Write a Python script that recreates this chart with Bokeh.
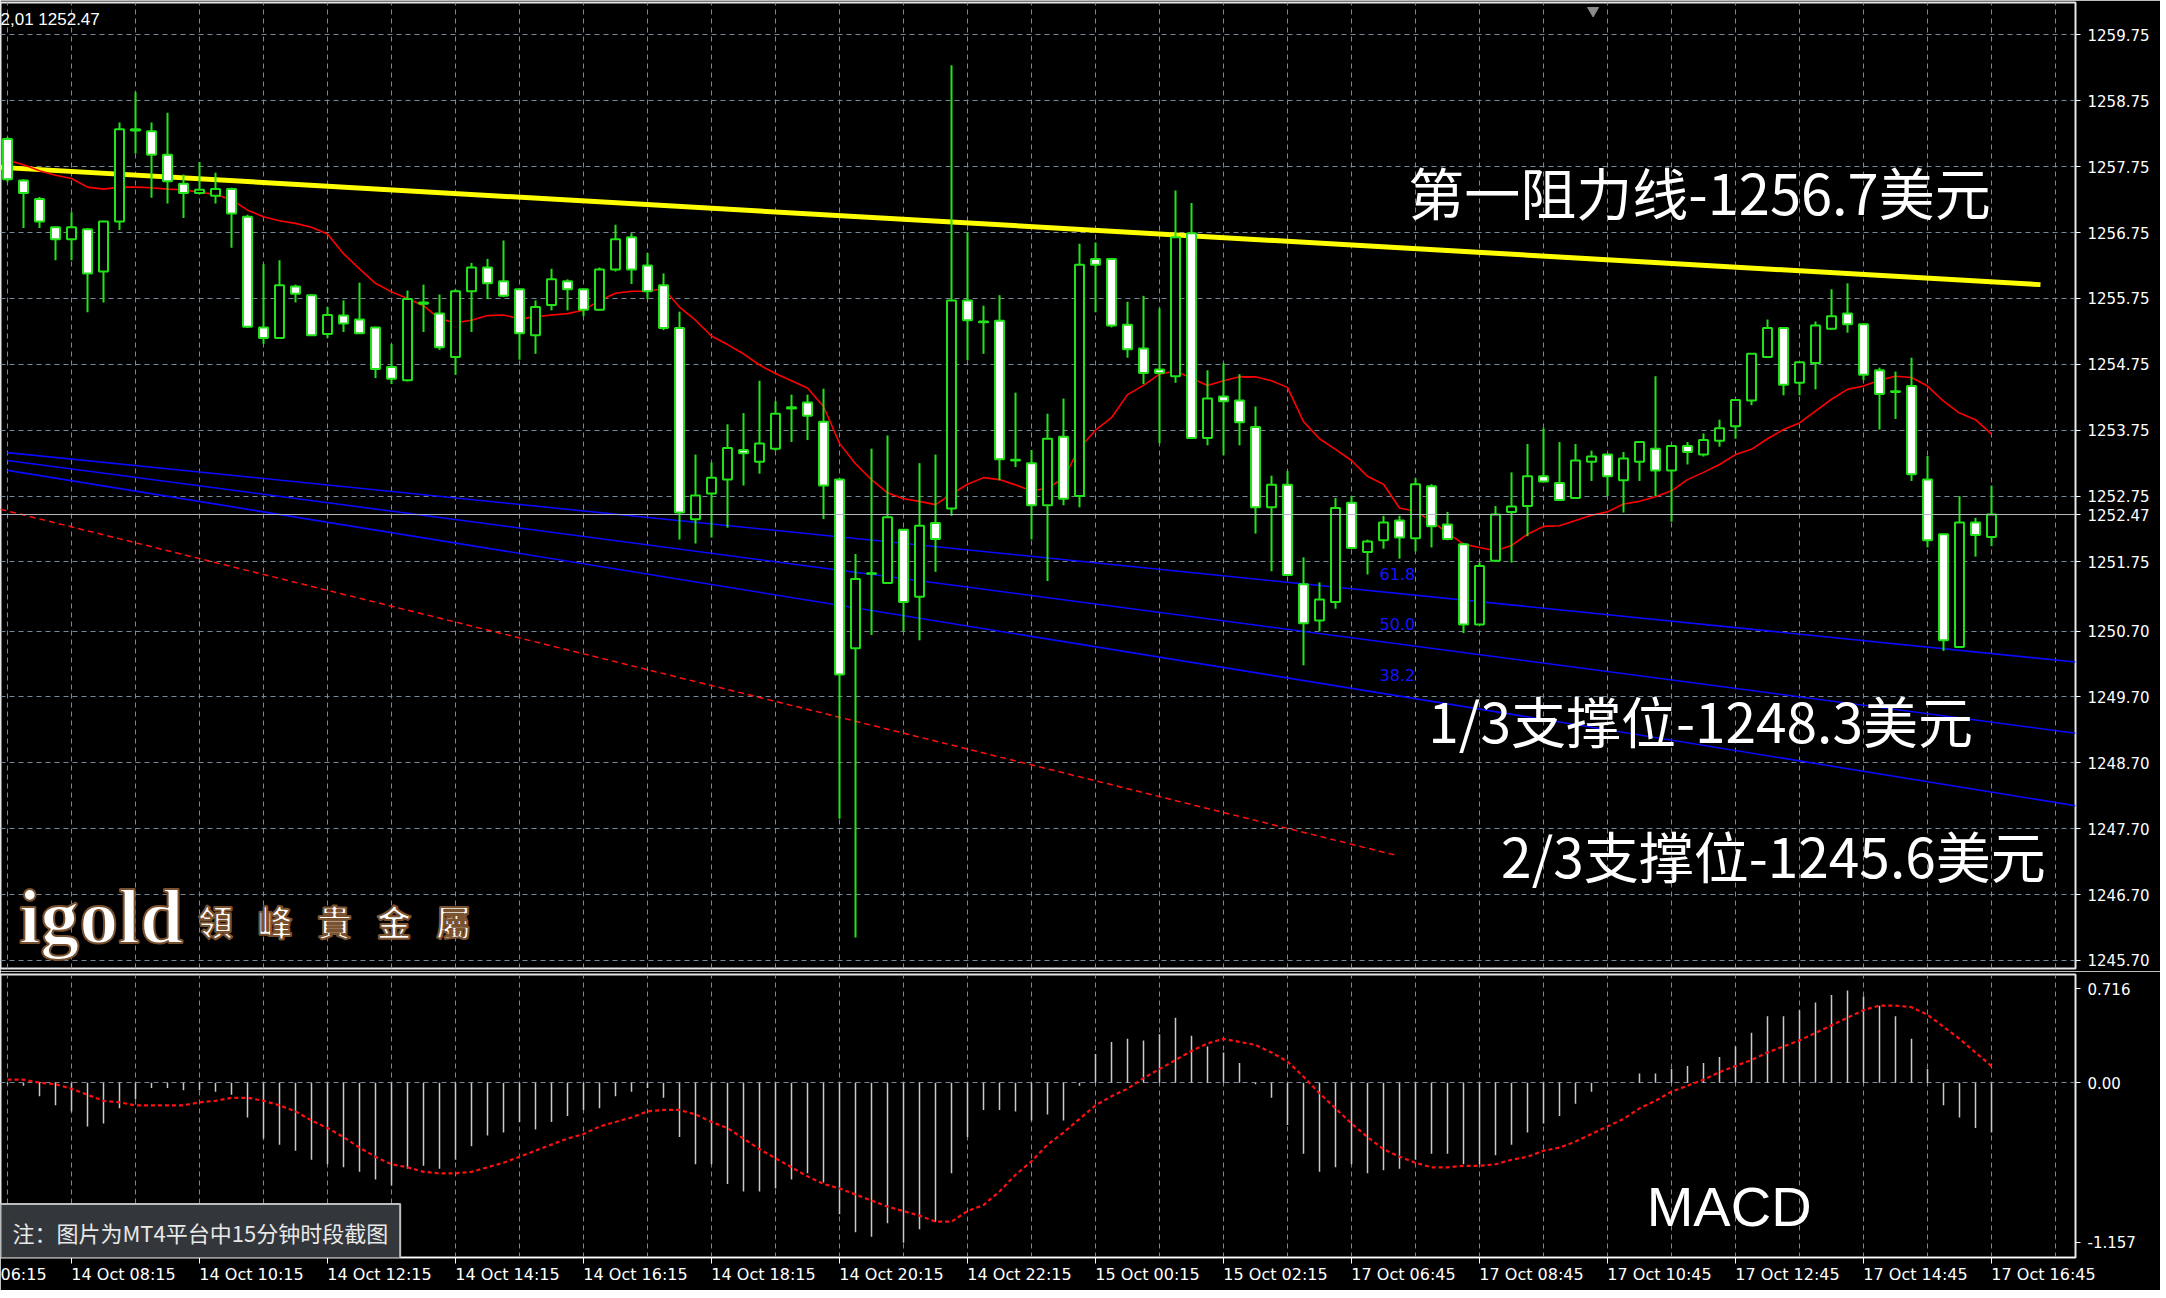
from bokeh.plotting import figure
from bokeh.layouts import column
from bokeh.models import (Range1d, FixedTicker, ColumnDataSource, Label, Span)
from bokeh.embed import file_html
from bokeh.resources import INLINE

# ---------------- data ----------------
opens = [1258.17, 1257.54, 1257.26, 1256.83, 1256.65, 1256.80, 1256.16, 1256.92, 1258.30, 1258.29,
         1257.93, 1257.49, 1257.35, 1257.31, 1257.41, 1256.99, 1255.31, 1255.15, 1255.93, 1255.80,
         1255.21, 1255.49, 1255.43, 1255.31, 1254.71, 1254.51, 1255.67, 1255.52, 1254.86, 1255.86,
         1256.22, 1256.01, 1255.89, 1255.19, 1255.65, 1256.01, 1255.89, 1255.58, 1256.19, 1256.68,
         1256.25, 1255.95, 1255.30, 1252.40, 1252.79, 1253.00, 1253.45, 1253.27, 1253.47, 1254.08,
         1254.17, 1253.88, 1253.00, 1250.44, 1251.57, 1251.43, 1252.24, 1251.22, 1252.34, 1252.56,
         1255.72, 1255.39, 1255.41, 1253.29, 1253.25, 1252.61, 1253.65, 1252.75, 1256.35, 1256.35,
         1255.35, 1254.99, 1254.67, 1254.57, 1256.74, 1253.63, 1254.26, 1254.20, 1253.80, 1252.58,
         1252.92, 1251.41, 1250.86, 1251.14, 1252.65, 1251.90, 1252.08, 1252.38, 1252.11, 1252.90,
         1252.32, 1252.02, 1250.80, 1251.77, 1252.51, 1252.60, 1253.05, 1252.95, 1252.72, 1253.27,
         1253.38, 1252.99, 1253.27, 1253.47, 1253.14, 1253.51, 1253.38, 1253.59, 1253.81, 1254.20,
         1254.86, 1255.30, 1254.47, 1254.77, 1255.29, 1255.52, 1255.36, 1254.66, 1254.33, 1254.42,
         1253.00, 1252.17, 1250.46, 1252.35, 1252.13]
highs = [1258.20, 1257.56, 1257.29, 1256.84, 1257.06, 1256.82, 1256.93, 1258.42, 1258.88, 1258.42,
         1258.57, 1257.63, 1257.82, 1257.66, 1257.43, 1257.02, 1256.27, 1256.33, 1255.96, 1255.81,
         1255.62, 1255.72, 1255.99, 1255.32, 1255.06, 1255.87, 1255.96, 1255.81, 1255.89, 1256.29,
         1256.35, 1256.63, 1255.90, 1255.72, 1256.20, 1256.04, 1255.90, 1256.22, 1256.87, 1256.74,
         1256.44, 1256.13, 1255.55, 1253.38, 1253.26, 1253.84, 1254.01, 1254.50, 1254.19, 1254.29,
         1254.29, 1254.38, 1253.02, 1251.87, 1253.47, 1253.67, 1252.25, 1253.25, 1253.38, 1259.29,
         1256.75, 1255.64, 1255.80, 1254.32, 1253.45, 1254.00, 1254.23, 1256.58, 1256.60, 1256.36,
         1255.70, 1255.79, 1255.60, 1257.39, 1257.20, 1254.66, 1254.77, 1254.60, 1254.11, 1253.06,
         1253.13, 1251.82, 1251.44, 1252.72, 1252.75, 1252.09, 1252.45, 1252.45, 1253.02, 1252.93,
         1252.51, 1252.04, 1251.74, 1252.60, 1253.11, 1253.54, 1253.78, 1253.57, 1253.54, 1253.44,
         1253.39, 1253.42, 1253.58, 1254.57, 1253.52, 1253.57, 1253.70, 1253.91, 1254.22, 1254.92,
         1255.43, 1255.31, 1254.79, 1255.40, 1255.89, 1255.98, 1255.37, 1254.70, 1254.64, 1254.85,
         1253.36, 1252.18, 1252.75, 1252.42, 1252.91]
lows = [1257.52, 1256.82, 1256.82, 1256.33, 1256.33, 1255.54, 1255.69, 1256.79, 1257.95, 1257.28,
        1257.19, 1256.97, 1257.33, 1257.19, 1256.52, 1255.30, 1255.06, 1255.14, 1255.69, 1255.18,
        1255.15, 1255.24, 1255.21, 1254.54, 1254.45, 1254.49, 1255.24, 1254.97, 1254.59, 1255.24,
        1255.74, 1255.77, 1254.82, 1254.91, 1255.57, 1255.57, 1255.48, 1255.57, 1256.16, 1255.97,
        1255.74, 1255.27, 1252.09, 1252.03, 1252.12, 1252.27, 1252.91, 1253.09, 1253.44, 1253.57,
        1253.60, 1252.40, 1247.85, 1246.05, 1250.64, 1251.42, 1250.70, 1250.56, 1251.60, 1252.45,
        1254.81, 1254.91, 1252.99, 1253.19, 1252.09, 1251.46, 1252.61, 1252.58, 1255.54, 1255.31,
        1254.85, 1254.45, 1253.55, 1254.47, 1253.62, 1253.52, 1253.37, 1253.52, 1252.18, 1251.61,
        1251.54, 1250.18, 1250.70, 1251.04, 1251.95, 1251.56, 1251.95, 1251.80, 1251.91, 1251.97,
        1252.08, 1250.67, 1250.79, 1251.76, 1251.74, 1252.14, 1252.96, 1252.68, 1252.71, 1252.98,
        1252.75, 1252.50, 1252.98, 1252.75, 1252.36, 1253.23, 1253.35, 1253.50, 1253.62, 1254.13,
        1254.85, 1254.28, 1254.28, 1254.37, 1255.28, 1255.23, 1254.51, 1253.76, 1253.92, 1252.98,
        1251.97, 1250.40, 1250.45, 1251.83, 1251.99]
closes = [1257.56, 1257.35, 1256.92, 1256.65, 1256.83, 1256.13, 1256.92, 1258.32, 1258.32, 1257.93,
          1257.53, 1257.35, 1257.40, 1257.41, 1257.04, 1255.32, 1255.15, 1255.95, 1255.82, 1255.19,
          1255.50, 1255.37, 1255.22, 1254.68, 1254.53, 1255.74, 1255.69, 1255.01, 1255.86, 1256.22,
          1255.98, 1255.79, 1255.22, 1255.62, 1256.04, 1255.89, 1255.58, 1256.19, 1256.65, 1256.19,
          1255.86, 1255.30, 1252.50, 1252.76, 1253.03, 1253.48, 1253.40, 1253.55, 1254.00, 1254.10,
          1253.97, 1252.91, 1250.04, 1251.49, 1251.58, 1252.43, 1251.14, 1252.30, 1252.10, 1255.72,
          1255.42, 1255.40, 1253.31, 1253.30, 1252.61, 1253.62, 1252.71, 1256.26, 1256.26, 1255.34,
          1254.98, 1254.62, 1254.62, 1256.68, 1253.63, 1254.23, 1254.19, 1253.87, 1252.58, 1252.92,
          1251.55, 1250.82, 1251.18, 1252.57, 1251.96, 1252.06, 1252.35, 1252.12, 1252.93, 1252.29,
          1252.10, 1250.80, 1251.69, 1252.47, 1252.59, 1253.05, 1252.97, 1252.69, 1253.29, 1253.35,
          1253.05, 1253.32, 1253.57, 1253.14, 1253.51, 1253.42, 1253.60, 1253.78, 1254.21, 1254.91,
          1255.30, 1254.44, 1254.78, 1255.34, 1255.48, 1255.36, 1254.59, 1254.30, 1254.34, 1253.08,
          1252.08, 1250.56, 1252.35, 1252.16, 1252.47]
ma_line = [1257.85, 1257.78, 1257.69, 1257.62, 1257.57, 1257.44, 1257.41, 1257.44, 1257.44, 1257.43,
           1257.41, 1257.40, 1257.36, 1257.33, 1257.25, 1257.09, 1256.99, 1256.93, 1256.89, 1256.83,
           1256.73, 1256.43, 1256.20, 1255.98, 1255.85, 1255.75, 1255.64, 1255.44, 1255.38, 1255.42,
           1255.49, 1255.50, 1255.44, 1255.47, 1255.50, 1255.52, 1255.57, 1255.72, 1255.83, 1255.86,
           1255.86, 1255.90, 1255.62, 1255.42, 1255.18, 1255.05, 1254.91, 1254.74, 1254.61, 1254.50,
           1254.39, 1254.11, 1253.55, 1253.24, 1253.00, 1252.80, 1252.71, 1252.67, 1252.62, 1252.78,
           1252.93, 1253.03, 1253.00, 1252.92, 1252.83, 1252.87, 1253.02, 1253.48, 1253.75, 1253.94,
           1254.29, 1254.43, 1254.60, 1254.65, 1254.54, 1254.43, 1254.50, 1254.56, 1254.56, 1254.50,
           1254.40, 1253.88, 1253.62, 1253.46, 1253.29, 1253.05, 1252.93, 1252.57, 1252.52, 1252.37,
           1252.19, 1252.02, 1251.97, 1251.92, 1252.00, 1252.17, 1252.29, 1252.30, 1252.38, 1252.46,
           1252.51, 1252.63, 1252.67, 1252.74, 1252.83, 1253.00, 1253.11, 1253.23, 1253.38, 1253.46,
           1253.62, 1253.76, 1253.86, 1254.04, 1254.22, 1254.37, 1254.42, 1254.51, 1254.57, 1254.55,
           1254.42, 1254.19, 1254.01, 1253.91, 1253.69]
macd_hist = [-0.01, -0.02, -0.09, -0.15, -0.19, -0.29, -0.27, -0.17, -0.11, -0.035,
             -0.035, -0.05, -0.05, -0.06, -0.08, -0.23, -0.37, -0.41, -0.45, -0.51,
             -0.54, -0.56, -0.59, -0.64, -0.68, -0.57, -0.55, -0.57, -0.51, -0.42,
             -0.35, -0.33, -0.26, -0.31, -0.26, -0.22, -0.18, -0.17, -0.09, -0.06,
             -0.035, -0.10, -0.36, -0.54, -0.54, -0.67, -0.72, -0.72, -0.70, -0.64,
             -0.60, -0.66, -0.87, -0.99, -1.02, -0.93, -1.06, -0.97, -0.92, -0.60,
             -0.36, -0.18, -0.18, -0.19, -0.25, -0.21, -0.25, -0.02, 0.19, 0.27,
             0.29, 0.28, 0.32, 0.43, 0.31, 0.24, 0.20, 0.13, -0.01, -0.10,
             -0.28, -0.47, -0.59, -0.56, -0.54, -0.60, -0.58, -0.57, -0.51, -0.47,
             -0.47, -0.54, -0.54, -0.48, -0.41, -0.33, -0.27, -0.22, -0.14, -0.06,
             0.0, 0.0, 0.06, 0.06, 0.09, 0.11, 0.13, 0.17, 0.24, 0.33,
             0.44, 0.44, 0.48, 0.53, 0.58, 0.61, 0.57, 0.51, 0.44, 0.29,
             0.09, -0.15, -0.23, -0.30, -0.33]
macd_signal = [0.02, 0.02, 0.0, -0.01, -0.04, -0.08, -0.12, -0.13, -0.15, -0.15,
               -0.15, -0.15, -0.13, -0.12, -0.10, -0.10, -0.12, -0.15, -0.19, -0.25,
               -0.30, -0.36, -0.43, -0.49, -0.54, -0.56, -0.59, -0.60, -0.60, -0.59,
               -0.56, -0.53, -0.49, -0.45, -0.41, -0.37, -0.34, -0.29, -0.26, -0.23,
               -0.19, -0.18, -0.18, -0.21, -0.26, -0.30, -0.37, -0.44, -0.50, -0.56,
               -0.62, -0.67, -0.70, -0.74, -0.78, -0.82, -0.85, -0.88, -0.92, -0.92,
               -0.85, -0.81, -0.72, -0.61, -0.52, -0.41, -0.33, -0.24, -0.15, -0.09,
               -0.04, 0.03, 0.09, 0.15, 0.21, 0.26, 0.29, 0.27, 0.25, 0.20,
               0.14, 0.04, -0.07, -0.17, -0.27, -0.36, -0.44, -0.49, -0.53, -0.56,
               -0.56, -0.55, -0.55, -0.54, -0.51, -0.49, -0.45, -0.43, -0.39, -0.34,
               -0.29, -0.24, -0.17, -0.12, -0.06, -0.02, 0.02, 0.07, 0.11, 0.15,
               0.20, 0.24, 0.28, 0.33, 0.38, 0.43, 0.48, 0.51, 0.51, 0.50,
               0.45, 0.37, 0.29, 0.20, 0.11]

price_tick_labels = ["1259.75", "1258.75", "1257.75", "1256.75", "1255.75", "1254.75", "1253.75",
                     "1252.75", "1251.75", "1250.70", "1249.70", "1248.70", "1247.70", "1246.70",
                     "1245.70"]
time_tick_bars = [4, 12, 20, 28, 36, 44, 52, 60, 68, 76, 84, 92, 100, 108, 116, 124]
time_tick_labels = ["14 Oct 08:15", "14 Oct 10:15", "14 Oct 12:15", "14 Oct 14:15",
                    "14 Oct 16:15", "14 Oct 18:15", "14 Oct 20:15", "14 Oct 22:15", "15 Oct 00:15",
                    "15 Oct 02:15", "17 Oct 06:45", "17 Oct 08:45", "17 Oct 10:45", "17 Oct 12:45",
                    "17 Oct 14:45", "17 Oct 16:45"]
cut_time_label = "06:15"        # the 14 Oct 06:15 label, cut by the left edge
macd_axis_labels = ["0.716", "0.00", "-1.157"]
macd_max, macd_min = 0.716, -1.157

# drawn objects of the analyst: endpoints in (bar index, price)
resistance_bars = [-0.44, 127.06]
resistance_prices = [1257.74, 1255.96]
fan_bars = [0.0, 129.25]
fan_618 = [1253.41, 1250.23]
fan_500 = [1253.29, 1249.15]
fan_382 = [1253.14, 1248.05]
fan_names = ["61.8", "50.0", "38.2"]
base_bars = [-0.44, 86.9]
base_prices = [1252.55, 1247.29]

# ---------------- styling / layout constants ----------------
GREEN = "#22e21a"
GRID = "#778899"
W = 2160
BORDER_R = 85
X_START, X_END = -0.4375, 129.25           # 16 px per bar over a 2075 px frame
P_TOP, P_BOT = 1260.243, 1245.578
MACD_FRAME_H = 283
PX_PER_MACD = MACD_FRAME_H / (macd_max - macd_min)
PX_PER_BAR = 16.0
TIME_LABEL_HALF = 52 / PX_PER_BAR          # labels start at their tick (MT4 style)

bars = list(range(len(closes)))

# ---------------- main price panel ----------------
p = figure(width=W, height=971, output_backend="svg", toolbar_location=None,
           x_range=Range1d(X_START, X_END), y_range=Range1d(P_BOT, P_TOP),
           x_axis_location=None, y_axis_location="right",
           background_fill_color="black", border_fill_color="black",
           min_border_left=0, min_border_right=BORDER_R, min_border_top=2, min_border_bottom=3)
p.outline_line_color = "#e6e6e6"
p.outline_line_width = 2

price_ticks = [float(s) for s in price_tick_labels]
# the last price is shown on the axis, as MT4 does
axis_ticks = price_ticks + [closes[-1]]
axis_labels = price_tick_labels + [f"{closes[-1]:.2f}"]
ax = p.yaxis[0]
ax.ticker = FixedTicker(ticks=axis_ticks)
ax.major_label_overrides = {v: s for v, s in zip(axis_ticks, axis_labels)}
ax.axis_line_color = None
ax.major_tick_line_color = "white"
ax.major_tick_out = 5
ax.major_tick_in = 0
ax.minor_tick_line_color = None
ax.major_label_text_color = "white"
ax.major_label_text_font = "DejaVu Sans"
ax.major_label_text_font_size = "15px"
ax.major_label_standoff = 7

p.xgrid.ticker = FixedTicker(ticks=list(range(0, 132, 4)))
p.ygrid.ticker = FixedTicker(ticks=price_ticks)
for g in (p.xgrid, p.ygrid):
    g.grid_line_color = GRID
    g.grid_line_dash = "5 4"
    g.grid_line_width = 1

# analyst lines
p.line(base_bars, base_prices, line_color="#ff1010", line_width=1.5, line_dash="6 4")
for ys in (fan_618, fan_500, fan_382):
    p.line(fan_bars, ys, line_color="#0a0aff", line_width=1.6)
p.line(resistance_bars, resistance_prices, line_color="#ffff00", line_width=5)

# current price line
p.add_layout(Span(location=closes[-1], dimension="width", line_color="#b4b8bc", line_width=1))

# moving average
p.line(bars, ma_line, line_color="#ff0000", line_width=1.6)

# candles
src = ColumnDataSource(dict(
    x=bars, h=highs, l=lows,
    top=[max(o, c) for o, c in zip(opens, closes)],
    bottom=[min(o, c) for o, c in zip(opens, closes)],
    fill=["white" if c < o else "black" for o, c in zip(opens, closes)],
))
p.segment(x0="x", y0="h", x1="x", y1="l", source=src, line_color=GREEN, line_width=2)
p.vbar(x="x", width=0.56, top="top", bottom="bottom", source=src,
       fill_color="fill", line_color=GREEN, line_width=2)

# fib fan labels, just above each fan line
fib_x = 85.75
for name, ys in zip(fan_names, (fan_618, fan_500, fan_382)):
    yv = ys[0] + (ys[1] - ys[0]) * (fib_x - fan_bars[0]) / (fan_bars[1] - fan_bars[0])
    p.add_layout(Label(x=fib_x, y=yv + 0.27, text=name, text_color="#1414ff",
                       text_font="DejaVu Sans", text_font_size="16px", text_baseline="middle"))

# header text
p.add_layout(Label(x=X_START, y=1259.99, text="2,01 1252.47", text_color="white",
                   text_font="Liberation Sans", text_font_size="17px", text_baseline="middle"))

# chart-shift marker at the top
p.scatter(x=[99.1], y=[1260.12], marker="inverted_triangle", size=11, color="#8c8c8c")

# annotations
CJK = "Noto Sans CJK SC"
p.add_layout(Label(x=87.55, y=1257.39, text="第一阻力线-1256.7美元", text_color="white",
                   text_font=CJK, text_font_size="56px", text_baseline="middle"))
p.add_layout(Label(x=88.8, y=1249.36, text="1/3支撑位-1248.3美元", text_color="white",
                   text_font=CJK, text_font_size="55px", text_baseline="middle"))
p.add_layout(Label(x=93.35, y=1247.31, text="2/3支撑位-1245.6美元", text_color="white",
                   text_font=CJK, text_font_size="55px", text_baseline="middle"))

# logo
p.add_layout(Label(x=0.7, y=1246.37, text="igold", text_color="white",
                   text_font="Liberation Serif", text_font_style="bold", text_font_size="78px",
                   text_baseline="alphabetic", text_outline_color="#7a5230"))
p.add_layout(Label(x=11.9, y=1246.31, text="領\u2002\u2009峰\u2002\u2009貴\u2002\u2009金\u2002\u2009屬",
                   text_color="white", text_font="Noto Sans CJK TC", text_font_style="bold",
                   text_font_size="35px", text_baseline="middle", text_outline_color="#7a5230"))

# ---------------- MACD panel ----------------
q = figure(width=W, height=319, output_backend="svg", toolbar_location=None,
           x_range=p.x_range, y_range=Range1d(macd_min, macd_max),
           x_axis_location="below", y_axis_location="right",
           background_fill_color="black", border_fill_color="black",
           min_border_left=0, min_border_right=BORDER_R, min_border_top=3, min_border_bottom=33)
q.outline_line_color = "#e6e6e6"
q.outline_line_width = 2

pad_top = 14 / PX_PER_MACD
pad_bot = 15 / PX_PER_MACD
macd_tick_pos = [round(macd_max - pad_top, 4), 0.0, round(macd_min + pad_bot, 4)]
qy = q.yaxis[0]
qy.ticker = FixedTicker(ticks=macd_tick_pos)
qy.major_label_overrides = {v: s for v, s in zip(macd_tick_pos, macd_axis_labels)}
qy.axis_line_color = None
qy.major_tick_line_color = "white"
qy.major_tick_out = 5
qy.major_tick_in = 0
qy.minor_tick_line_color = None
qy.major_label_text_color = "white"
qy.major_label_text_font = "DejaVu Sans"
qy.major_label_text_font_size = "15px"
qy.major_label_standoff = 7

# time axis: labels start at their tick, as in MT4 -> label anchors shifted by half a label
label_pos = [round(b + TIME_LABEL_HALF, 4) for b in time_tick_bars]
cut_pos = round(X_START + 23 / PX_PER_BAR, 4)
qx = q.xaxis[0]
qx.ticker = FixedTicker(ticks=[cut_pos] + label_pos, minor_ticks=time_tick_bars)
qx.major_label_overrides = {**{v: s for v, s in zip(label_pos, time_tick_labels)},
                            cut_pos: cut_time_label}
qx.axis_line_color = "white"
qx.major_tick_line_color = None
qx.major_tick_out = 6
qx.major_tick_in = 0
qx.minor_tick_line_color = "white"
qx.minor_tick_out = 6
qx.minor_tick_in = 0
qx.major_label_text_color = "white"
qx.major_label_text_font = "DejaVu Sans"
qx.major_label_text_font_size = "16px"
qx.major_label_standoff = 1

q.xgrid.ticker = FixedTicker(ticks=list(range(0, 132, 4)))
q.ygrid.ticker = FixedTicker(ticks=[0.0])
for g in (q.xgrid, q.ygrid):
    g.grid_line_color = GRID
    g.grid_line_dash = "5 4"
    g.grid_line_width = 1

q.segment(x0=bars, y0=[0.0] * len(bars), x1=bars, y1=macd_hist, line_color="#c8c8c8", line_width=1.5)
q.line(bars, macd_signal, line_color="#ff1010", line_width=2.2, line_dash="4 3")

q.add_layout(Label(x=102.45, y=-0.818, text="MACD", text_color="white",
                   text_font="Liberation Sans", text_font_size="56px", text_baseline="middle"))

q.add_layout(Label(x=X_START, y=-0.989, text="注：图片为MT4平台中15分钟时段截图", text_color="#e8e8e8",
                   text_font=CJK, text_font_size="22px", text_baseline="middle",
                   background_fill_color="#33363b", border_line_color="#bdbdbd", border_line_width=2,
                   padding=12))

layout = column(p, q)
open("out.html", "w").write(file_html(layout, INLINE))
